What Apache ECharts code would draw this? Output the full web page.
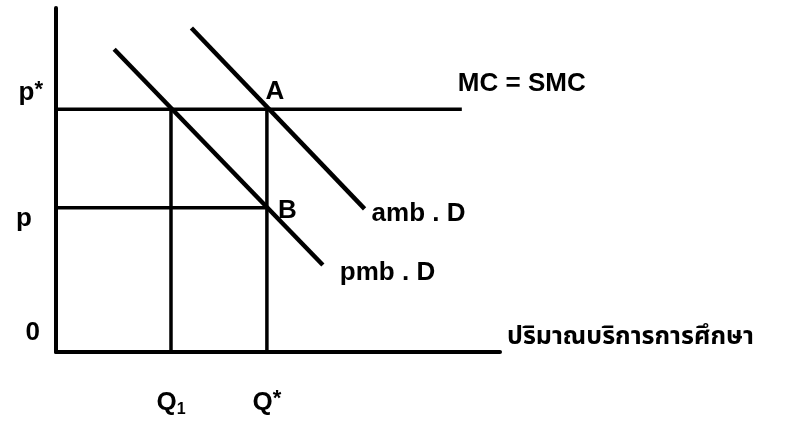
<!DOCTYPE html>
<html>
<head>
<meta charset="utf-8">
<script src="https://cdn.jsdelivr.net/npm/echarts@6/dist/echarts.min.js"></script>
<style>html,body{margin:0;padding:0;background:#fff}#c{width:802px;height:423px}</style>
</head>
<body>
<div id="c"></div>
<script>
// ---- data (economic units, x and y on 0..100 scales) ----
const xMax = 100, yMax = 100;
const pStar = 70.6;          // p*  (MC = SMC level)
const pPriv = 41.9;          // p
const q1 = 25.9;             // Q1
const qStar = 47.5;          // Q*
const mcLine = [[0, pStar], [91.4, pStar]];
const pLine = [[0, pPriv], [qStar, pPriv]];
const q1Line = [[q1, 0], [q1, pStar]];
const qStarLine = [[qStar, 0], [qStar, pStar]];
const ambD = [[30.5, 94.2], [69.5, 41.6]];
const pmbD = [[13.1, 88.0], [60.1, 25.3]];
const xAxisName = 'ปริมาณบริการการศึกษา';
const xTickValues = [q1, qStar];
const xTickLabels = ['{q|Q}{sub|1}', '{q|Q}{sup|*}'];

const FONT = '"Liberation Sans", Arial, sans-serif';
const THAI = '"Noto Sans Thai", "Noto Sans Thai UI", Loma, Garuda, "Tlwg Typo", Waree, Sarabun, sans-serif';
const INK = '#000000';
const lbl = (pos, dist, off) => ({show: true, position: pos, distance: dist, offset: off,
  color: INK, textBorderWidth: 0, fontFamily: FONT, fontSize: 26, fontWeight: 'bold',
  rich: {b: {fontFamily: FONT, fontSize: 26, fontWeight: 'bold', color: INK},
         s: {fontFamily: FONT, fontSize: 22, fontWeight: 'bold', color: INK, verticalAlign: 'top', padding: [0,0,6,0]}}});

const labelPoints = [
  {value: [0, pStar], label: Object.assign(lbl('left', 13, [0, -16]), {formatter: '{b|p}{s|*}'})},
  {value: [0, pPriv], label: Object.assign(lbl('left', 24, [0, 11]), {formatter: 'p'})},
  {value: [0, 0], label: Object.assign(lbl('left', 16, [0, -19]), {formatter: '0'})},
  {value: [qStar, pStar], label: Object.assign(lbl('top', 4, [8, 0]), {formatter: 'A'})},
  {value: [qStar, pPriv], label: Object.assign(lbl('right', 11, [0, 3]), {formatter: 'B'})},
  {value: mcLine[1], label: Object.assign(lbl('right', -4, [0, -25]), {formatter: 'MC = SMC'})},
  {value: ambD[1], label: Object.assign(lbl('right', 7, [0, 5]), {formatter: 'amb . D'})},
  {value: pmbD[1], label: Object.assign(lbl('right', 17, [0, 8]), {formatter: 'pmb . D'})},
  {value: [xMax, 0], label: Object.assign(lbl('right', 7, [0, -13]),
     {formatter: xAxisName, fontFamily: THAI, fontSize: 25})}
];

const seg = (data, w) => ({type: 'line', data: data, showSymbol: false, silent: true,
  lineStyle: {color: INK, width: w, cap: 'butt'}, z: 3});

const chart = echarts.init(document.getElementById('c'), null, {renderer: 'canvas'});
chart.setOption({
  animation: false,
  backgroundColor: '#ffffff',
  textStyle: {color: INK},
  grid: {left: 56, top: 8, width: 444, height: 344, containLabel: false},
  xAxis: {
    type: 'value', min: 0, max: xMax,
    axisLine: {show: true, onZero: false, lineStyle: {color: INK, width: 4}},
    axisTick: {show: false}, splitLine: {show: false},
    axisLabel: {
      show: true, margin: 36, customValues: xTickValues, color: INK,
      formatter: v => xTickLabels[xTickValues.indexOf(v)] || '',
      rich: {
        q: {fontFamily: FONT, fontSize: 26, fontWeight: 'bold', color: INK},
        sub: {fontFamily: FONT, fontSize: 16, fontWeight: 'bold', color: INK, padding: [14,0,0,0]},
        sup: {fontFamily: FONT, fontSize: 22, fontWeight: 'bold', color: INK, padding: [0,0,8,0]}
      }
    }
  },
  yAxis: {
    type: 'value', min: 0, max: yMax,
    axisLine: {show: true, onZero: false, lineStyle: {color: INK, width: 4}},
    axisTick: {show: false}, splitLine: {show: false}, axisLabel: {show: false}
  },
  series: [
    seg(mcLine, 3.5),
    seg(pLine, 3.5),
    seg(q1Line, 3.5),
    seg(qStarLine, 3.5),
    seg(ambD, 4.5),
    seg(pmbD, 4.5),
    {type: 'scatter', data: labelPoints, symbolSize: 0, silent: true, z: 5,
     itemStyle: {opacity: 1, color: INK},
     label: {show: true, color: INK}}
  ]
});
</script>
</body>
</html>
